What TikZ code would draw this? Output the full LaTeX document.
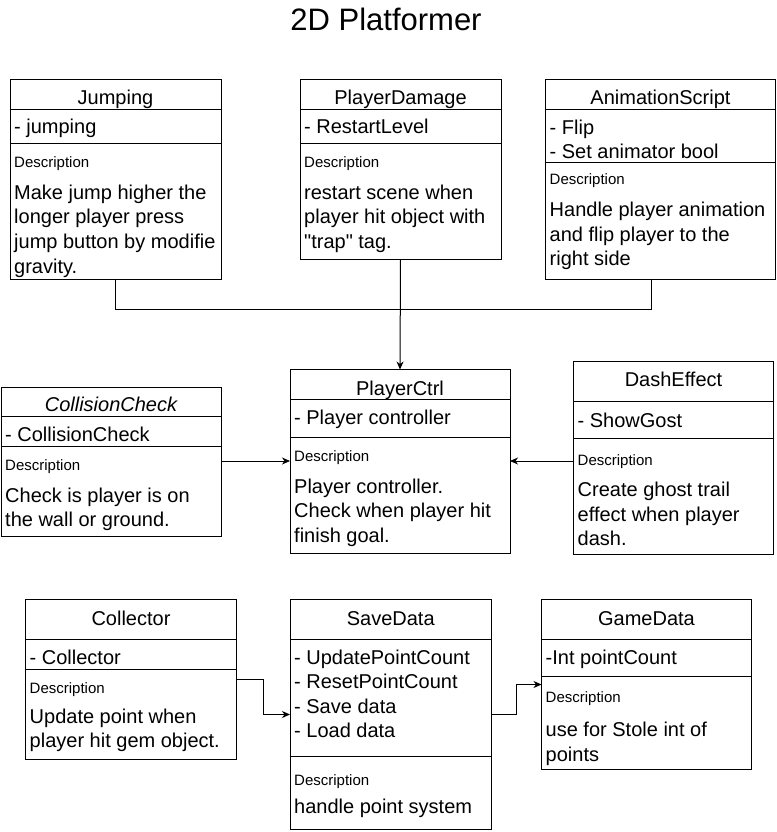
\documentclass[tikz,border=0pt]{standalone}
\usepackage{fontspec}
\setmainfont{Liberation Sans}
\newfontfamily\qfont{Liberation Sans}
\usetikzlibrary{arrows.meta,fit}
\tikzset{
  umlbox/.style={draw=black, line width=1pt, inner sep=0pt, outer sep=0pt},
  ttl/.style={font=\fontsize{20}{24}\selectfont, anchor=base, inner sep=0pt},
  txt/.style={font=\fontsize{20}{24}\selectfont, anchor=base west, inner sep=0pt},
  dsc/.style={font=\fontsize{15}{18}\selectfont, anchor=base west, inner sep=0pt},
  conn/.style={draw=black, line width=1pt},
  arr/.style={conn, -{Stealth[length=8pt,width=7pt,inset=2.5pt]}},
  divider/.style={draw=black, line width=1pt},
}
\begin{document}
\begin{tikzpicture}[x=1pt,y=-1pt]
\useasboundingbox (0,0) rectangle (776,832);

\node[font=\fontsize{31}{36}\selectfont, anchor=base, inner sep=0pt] (title) at (386,30.5) {2D Platformer};

% ---------- Jumping
\node[umlbox, fit={(10,80) (221,279)}] (jump) {};
\draw[divider] (10,110) -- (221,110);
\draw[divider] (10,143) -- (221,143);
\node[ttl] (jumpT) at (115.5,105) {Jumping};
\node[txt] (jumpA) at (14,134) {- jumping};
\node[dsc] (jumpD) at (14,167) {Description};
\node[txt] (jumpB1) at (14,199.3) {Make jump higher the};
\node[txt] (jumpB2) at (14,223.9) {longer player press};
\node[txt] (jumpB3) at (14,248.5) {jump button by modifie};
\node[txt] (jumpB4) at (14,273.1) {gravity.};

% ---------- PlayerDamage
\node[umlbox, fit={(300,80) (501,259)}] (pd) {};
\draw[divider] (300,110) -- (501,110);
\draw[divider] (300,143) -- (501,143);
\node[ttl] (pdT) at (400.5,105) {PlayerDamage};
\node[txt] (pdA) at (304,134) {- RestartLevel};
\node[dsc] (pdD) at (304,167) {Description};
\node[txt] (pdB1) at (304,199.3) {restart scene when};
\node[txt] (pdB2) at (304,223.9) {player hit object with};
\node[txt] (pdB3) at (304,248.5) {{\qfont\char34}trap{\qfont\char34} tag.};

% ---------- AnimationScript
\node[umlbox, fit={(545.5,80) (775.5,279)}] (anim) {};
\draw[divider] (545.5,110) -- (775.5,110);
\draw[divider] (545.5,162) -- (775.5,162);
\node[ttl] (animT) at (660.5,105) {AnimationScript};
\node[txt] (animA1) at (549.5,134.3) {- Flip};
\node[txt] (animA2) at (549.5,158.3) {- Set animator bool};
\node[dsc] (animD) at (549.5,184.3) {Description};
\node[txt] (animB1) at (549.5,216.5) {Handle player animation};
\node[txt] (animB2) at (549.5,241.1) {and flip player to the};
\node[txt] (animB3) at (549.5,265.7) {right side};

% ---------- CollisionCheck
\node[umlbox, fit={(1,387) (221,536)}] (cc) {};
\draw[divider] (1,416) -- (221,416);
\draw[divider] (1,446) -- (221,446);
\node[ttl, font=\fontsize{20}{24}\selectfont\itshape] (ccT) at (111,411) {CollisionCheck};
\node[txt] (ccA) at (5,441.7) {- CollisionCheck};
\node[dsc] (ccD) at (5,470.7) {Description};
\node[txt] (ccB1) at (5,502.3) {Check is player is on};
\node[txt] (ccB2) at (5,526.9) {the wall or ground.};

% ---------- PlayerCtrl
\node[umlbox, fit={(290,369.5) (510,553)}] (pc) {};
\draw[divider] (290,399.5) -- (510,399.5);
\draw[divider] (290,437.5) -- (510,437.5);
\node[ttl] (pcT) at (400,395) {PlayerCtrl};
\node[txt] (pcA) at (294,424.5) {- Player controller};
\node[dsc] (pcD) at (294,461.7) {Description};
\node[txt] (pcB1) at (294,493.3) {Player controller.};
\node[txt] (pcB2) at (294,517.9) {Check when player hit};
\node[txt] (pcB3) at (294,542.5) {finish goal.};

% ---------- DashEffect
\node[umlbox, fit={(573.5,361) (773.5,554)}] (de) {};
\draw[divider] (573.5,401) -- (773.5,401);
\draw[divider] (573.5,438) -- (773.5,438);
\node[ttl] (deT) at (673.5,386.7) {DashEffect};
\node[txt] (deA) at (577.5,427.7) {- ShowGost};
\node[dsc] (deD) at (577.5,465.7) {Description};
\node[txt] (deB1) at (577.5,496.7) {Create ghost trail};
\node[txt] (deB2) at (577.5,521.3) {effect when player};
\node[txt] (deB3) at (577.5,545.9) {dash.};

% ---------- Collector
\node[umlbox, fit={(25.5,599.5) (236.5,759.5)}] (col) {};
\draw[divider] (25.5,639.5) -- (236.5,639.5);
\draw[divider] (25.5,669.5) -- (236.5,669.5);
\node[ttl] (colT) at (131,625) {Collector};
\node[txt] (colA) at (29.5,664) {- Collector};
\node[dsc] (colD) at (29.5,693.3) {Description};
\node[txt] (colB1) at (29.5,723.3) {Update point when};
\node[txt] (colB2) at (29.5,747.9) {player hit gem object.};

% ---------- SaveData
\node[umlbox, fit={(290,599.5) (491.5,829.5)}] (sd) {};
\draw[divider] (290,639.5) -- (491.5,639.5);
\draw[divider] (290,756) -- (491.5,756);
\node[ttl] (sdT) at (390.75,625) {SaveData};
\node[txt] (sdA1) at (294,664) {- UpdatePointCount};
\node[txt] (sdA2) at (294,688.5) {- ResetPointCount};
\node[txt] (sdA3) at (294,713) {- Save data};
\node[txt] (sdA4) at (294,737.5) {- Load data};
\node[dsc] (sdD) at (294,785) {Description};
\node[txt] (sdB1) at (294,813.3) {handle point system};

% ---------- GameData
\node[umlbox, fit={(541.5,599.5) (751.5,769.5)}] (gd) {};
\draw[divider] (541.5,639.5) -- (751.5,639.5);
\draw[divider] (541.5,676) -- (751.5,676);
\node[ttl] (gdT) at (646.5,625) {GameData};
\node[txt] (gdA) at (545.5,664) {-Int pointCount};
\node[dsc] (gdD) at (545.5,702.7) {Description};
\node[txt] (gdB1) at (545.5,736.7) {use for Stole int of};
\node[txt] (gdB2) at (545.5,761.3) {points};

% ---------- connectors
\coordinate (animJoin) at (651,279);
\draw[conn] (jump.south) |- (651,309) -- (animJoin);
\draw[arr] (pd.south) -- (pc.north);
\draw[arr] (cc.east |- 0,461) -- (pc.west |- 0,461);
\draw[arr] (de.west |- 0,461) -- (pc.east |- 0,461);
\draw[arr] (col.east |- 0,679.5) -- (263.5,679.5) |- (sd.west |- 0,714.5);
\draw[arr] (sd.east |- 0,714.5) -- (516.5,714.5) |- (gd.west |- 0,684.5);
\end{tikzpicture}
\end{document}
